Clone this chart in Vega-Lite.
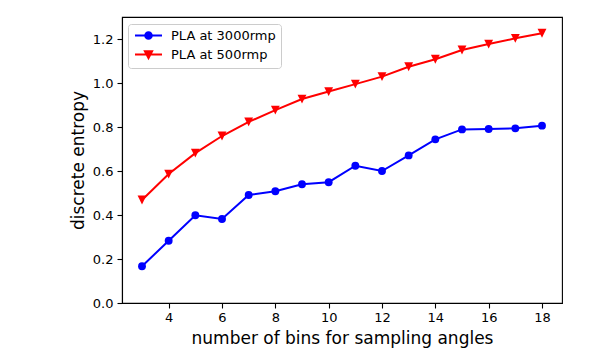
{
  "$schema": "https://vega.github.io/schema/vega-lite/v6.json",
  "width": 440,
  "height": 286,
  "autosize": {"type": "none"},
  "padding": {"left": 122, "top": 17, "right": 32, "bottom": 51},
  "config": {
    "font": "DejaVu Sans",
    "view": {"stroke": "black", "strokeWidth": 1.1},
    "axis": {
      "domainColor": "black", "domainWidth": 1.1,
      "tickColor": "black", "tickWidth": 1.1, "tickSize": 5,
      "labelColor": "black", "labelFont": "DejaVu Sans", "labelFontSize": 13,
      "titleColor": "black", "titleFont": "DejaVu Sans", "titleFontSize": 17, "titleFontWeight": "normal",
      "grid": false
    }
  },
  "data": {
    "values": [
      {"bins": 3, "series": "PLA at 3000rmp", "entropy": 0.167},
      {"bins": 4, "series": "PLA at 3000rmp", "entropy": 0.283},
      {"bins": 5, "series": "PLA at 3000rmp", "entropy": 0.399},
      {"bins": 6, "series": "PLA at 3000rmp", "entropy": 0.382},
      {"bins": 7, "series": "PLA at 3000rmp", "entropy": 0.491},
      {"bins": 8, "series": "PLA at 3000rmp", "entropy": 0.508},
      {"bins": 9, "series": "PLA at 3000rmp", "entropy": 0.540},
      {"bins": 10, "series": "PLA at 3000rmp", "entropy": 0.549},
      {"bins": 11, "series": "PLA at 3000rmp", "entropy": 0.624},
      {"bins": 12, "series": "PLA at 3000rmp", "entropy": 0.600},
      {"bins": 13, "series": "PLA at 3000rmp", "entropy": 0.671},
      {"bins": 14, "series": "PLA at 3000rmp", "entropy": 0.744},
      {"bins": 15, "series": "PLA at 3000rmp", "entropy": 0.789},
      {"bins": 16, "series": "PLA at 3000rmp", "entropy": 0.791},
      {"bins": 17, "series": "PLA at 3000rmp", "entropy": 0.794},
      {"bins": 18, "series": "PLA at 3000rmp", "entropy": 0.806},
      {"bins": 3, "series": "PLA at 500rmp", "entropy": 0.468},
      {"bins": 4, "series": "PLA at 500rmp", "entropy": 0.586},
      {"bins": 5, "series": "PLA at 500rmp", "entropy": 0.681},
      {"bins": 6, "series": "PLA at 500rmp", "entropy": 0.759},
      {"bins": 7, "series": "PLA at 500rmp", "entropy": 0.823},
      {"bins": 8, "series": "PLA at 500rmp", "entropy": 0.877},
      {"bins": 9, "series": "PLA at 500rmp", "entropy": 0.927},
      {"bins": 10, "series": "PLA at 500rmp", "entropy": 0.961},
      {"bins": 11, "series": "PLA at 500rmp", "entropy": 0.995},
      {"bins": 12, "series": "PLA at 500rmp", "entropy": 1.029},
      {"bins": 13, "series": "PLA at 500rmp", "entropy": 1.074},
      {"bins": 14, "series": "PLA at 500rmp", "entropy": 1.108},
      {"bins": 15, "series": "PLA at 500rmp", "entropy": 1.150},
      {"bins": 16, "series": "PLA at 500rmp", "entropy": 1.177},
      {"bins": 17, "series": "PLA at 500rmp", "entropy": 1.203},
      {"bins": 18, "series": "PLA at 500rmp", "entropy": 1.226}
    ]
  },
  "encoding": {
    "x": {
      "field": "bins", "type": "quantitative",
      "scale": {"domain": [2.25, 18.75], "nice": false, "zero": false},
      "axis": {"values": [4, 6, 8, 10, 12, 14, 16, 18], "title": "number of bins for sampling angles", "labelPadding": 3, "titlePadding": 6, "labelFlush": false}
    },
    "y": {
      "field": "entropy", "type": "quantitative",
      "scale": {"domain": [0, 1.3], "nice": false},
      "axis": {"values": [0, 0.2, 0.4, 0.6, 0.8, 1.0, 1.2], "format": ".1f", "title": "discrete entropy", "labelPadding": 4, "titlePadding": 5, "labelFlush": false}
    },
    "color": {
      "field": "series", "type": "nominal",
      "scale": {"domain": ["PLA at 3000rmp", "PLA at 500rmp"], "range": ["#0000ff", "#ff0000"]},
      "legend": {
        "title": null, "orient": "none", "legendX": 6, "legendY": 7,
        "labelFont": "DejaVu Sans", "labelFontSize": 13, "labelColor": "black",
        "fillColor": "white", "strokeColor": "#cccccc", "cornerRadius": 3, "padding": 5,
        "symbolSize": 81, "symbolOffset": 9, "labelOffset": 16, "rowPadding": 4,
        "symbolType": {"expr": "datum.value === 'PLA at 3000rmp' ? 'M-3,0H3M0.73,0A0.73,0.73 0 1,1 -0.73,0A0.73,0.73 0 1,1 0.73,0Z' : 'M-3,0H3M-0.8,-0.75H0.8L0,0.8Z'"},
        "symbolStrokeColor": {"expr": "datum.value === 'PLA at 3000rmp' ? '#0000ff' : '#ff0000'"},
        "symbolFillColor": {"expr": "datum.value === 'PLA at 3000rmp' ? '#0000ff' : '#ff0000'"},
        "symbolStrokeWidth": 2,
        "symbolOpacity": 1
      }
    }
  },
  "layer": [
    {"mark": {"type": "line", "strokeWidth": 2}},
    {
      "transform": [{"filter": "datum.series === 'PLA at 3000rmp'"}],
      "mark": {"type": "point", "filled": true, "opacity": 1, "shape": "circle", "size": 62}
    },
    {
      "transform": [{"filter": "datum.series === 'PLA at 500rmp'"}],
      "mark": {"type": "point", "filled": true, "opacity": 1, "shape": "M-1,-1H1L0,1Z", "size": 78}
    }
  ]
}
